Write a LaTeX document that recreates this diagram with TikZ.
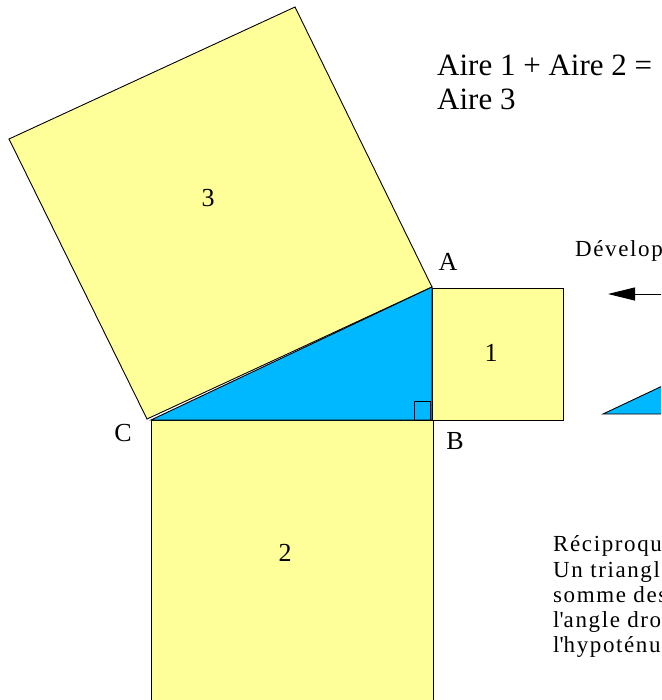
\documentclass[tikz,border=0pt]{standalone}
\usepackage{fontspec}
\setmainfont{Liberation Serif}
\newfontfamily\spacedserif[LetterSpace=7]{Liberation Serif}
\usetikzlibrary{arrows.meta}
\definecolor{sqyellow}{HTML}{FFFF99}
\definecolor{triblue}{HTML}{00B8FF}
\begin{document}
\begin{tikzpicture}[x=1pt,y=-1pt,
  sq/.style={draw=black,fill=sqyellow,line width=0.9pt},
  tri/.style={draw=black,fill=triblue,line width=0.9pt},
  lbl/.style={inner sep=0pt,font=\rmfamily\fontsize{26}{30}\selectfont},
  bigtxt/.style={inner sep=0pt,anchor=base west,font=\rmfamily\fontsize{31}{35}\selectfont},
  smalltxt/.style={inner sep=0pt,anchor=base west,font=\spacedserif\fontsize{23}{25}\selectfont}]
\useasboundingbox (0,0) rectangle (661,700);
\begin{scope}
\clip (0,0) rectangle (661,700);
% main triangle vertices
\coordinate (A) at (432,287);
\coordinate (B) at (432,420);
\coordinate (C) at (151,420);
% square 3 on hypotenuse
\coordinate (S3a) at (147,419);
\coordinate (S3b) at (432,287);
\coordinate (S3c) at (295,7);
\coordinate (S3d) at (9,139);
\draw[sq] (S3a) -- (S3b) -- (S3c) -- (S3d) -- cycle;
% square 1
\coordinate (S1a) at (432,288);
\coordinate (S1b) at (563,420);
\draw[sq] (S1a) rectangle (S1b);
% square 2
\coordinate (S2a) at (151,420);
\coordinate (S2b) at (433,703);
\draw[sq] (S2a) rectangle (S2b);
% triangle
\draw[tri] (A) -- (B) -- (C) -- cycle;
% right angle mark
\coordinate (R1) at (414,401);
\coordinate (R2) at (430,420);
\draw[line width=0.8pt] (R1) rectangle (R2);
% second triangle (cut off)
\coordinate (C2) at (603,414);
\coordinate (B2) at (885,414);
\coordinate (A2) at (885,281);
\draw[tri] (A2) -- (B2) -- (C2) -- cycle;
% arrow
\coordinate (arrS) at (680,294);
\coordinate (arrE) at (608,294);
\draw[line width=0.9pt,-{Triangle[length=27pt,width=13pt]}] (arrS) -- (arrE);
% labels
\node[lbl] (n3) at (208,198) {3};
\node[lbl] (n1) at (491,353) {1};
\node[lbl] (n2) at (285,553) {2};
\node[lbl] (lA) at (448,262) {A};
\node[lbl] (lB) at (455,441) {B};
\node[lbl] (lC) at (123,433) {C};
% texts
\node[bigtxt] (t1) at (437,76) {Aire 1 + Aire 2 =};
\node[bigtxt] (t2) at (437,110) {Aire 3};
\node[smalltxt] (dev) at (575,257) {Développement};
\node[smalltxt] (r1) at (553,551) {Réciproque :};
\node[smalltxt] (r2) at (553,577) {Un triangle dont la};
\node[smalltxt] (r3) at (553,602) {somme des carrés};
\node[smalltxt] (r4) at (553,627) {l\textquotesingle angle droit};
\node[smalltxt] (r5) at (553,652) {l\textquotesingle hypoténuse};
\end{scope}
\end{tikzpicture}
\end{document}
